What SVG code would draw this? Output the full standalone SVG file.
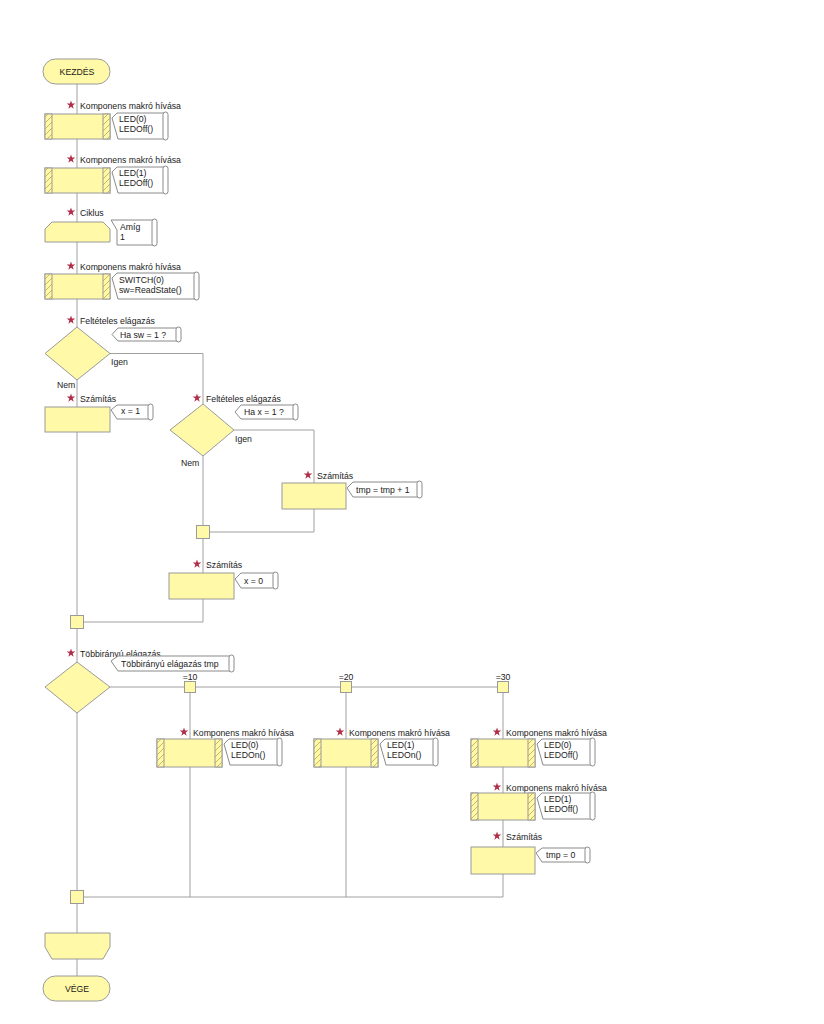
<svg xmlns="http://www.w3.org/2000/svg" xmlns:xlink="http://www.w3.org/1999/xlink" width="824" height="1024" viewBox="0 0 824 1024">
<style>
text{font-family:"Liberation Sans",Arial,sans-serif;font-size:8.7px;fill:#1a1a1a}
.mid{text-anchor:middle}
.shape{fill:#fff9a8;stroke:#9a9a9a;stroke-width:1}
.hatch{fill:url(#hp);stroke:#9a9a9a;stroke-width:1}
.line{fill:none;stroke:#a0a0a0;stroke-width:1}
.cm{fill:#fff;stroke:#8a8a8a;stroke-width:1}
.star{fill:#b0304a}
</style>
<defs>
<pattern id="hp" patternUnits="userSpaceOnUse" width="6" height="6">
<rect width="6" height="6" fill="#fff9a8"/>
<path d="M-1,7 L7,-1" stroke="#c8b050" stroke-width="0.9"/>
</pattern>
<path id="star" d="M0,-4.5 L1.06,-1.46 L4.28,-1.39 L1.71,0.56 L2.65,3.64 L0,1.8 L-2.65,3.64 L-1.71,0.56 L-4.28,-1.39 L-1.06,-1.46 Z"/>
</defs>
<rect width="824" height="1024" fill="#fff"/>

<g id="connectors">
<path class="line" d="M77,84 V976"/>
<path class="line" d="M110,353.5 H203 V622 H84"/>
<path class="line" d="M234,430 H314 V532 H209"/>
<path class="line" d="M110,687 H503 V897 H83"/>
<path class="line" d="M190,687 V897"/>
<path class="line" d="M346,687 V897"/>
</g>

<g id="start">
<rect class="shape" x="43" y="59" width="67" height="25" rx="12.5"/>
<text class="mid" x="77" y="75">KEZDÉS</text>
</g>

<g id="macro1">
<use href="#star" class="star" x="71" y="105"/>
<text x="80" y="109">Komponens makró hívása</text>
<rect class="shape" x="45" y="114" width="65" height="25"/>
<rect class="hatch" x="45" y="114" width="7" height="25"/>
<rect class="hatch" x="103" y="114" width="7" height="25"/>
<path class="cm" d="M117,113 L112,118 L118,139 L165,139 L165,113 Z"/>
<rect class="cm" x="163" y="112" width="5" height="28" rx="2.5"/>
<text x="119" y="122">LED(0)</text>
<text x="119" y="132">LEDOff()</text>
</g>

<g id="macro2">
<use href="#star" class="star" x="71" y="159"/>
<text x="80" y="163">Komponens makró hívása</text>
<rect class="shape" x="45" y="168" width="65" height="25"/>
<rect class="hatch" x="45" y="168" width="7" height="25"/>
<rect class="hatch" x="103" y="168" width="7" height="25"/>
<path class="cm" d="M117,167 L112,172 L118,193 L165,193 L165,167 Z"/>
<rect class="cm" x="163" y="166" width="5" height="28" rx="2.5"/>
<text x="119" y="176">LED(1)</text>
<text x="119" y="186">LEDOff()</text>
</g>

<g id="loop">
<use href="#star" class="star" x="71" y="212"/>
<text x="80" y="216">Ciklus</text>
<path class="shape" d="M52,222 L103,222 L110,229 L110,242 L45,242 L45,229 Z"/>
<path class="cm" d="M111,220 L117,230 L117,245 L154,245 L154,220 Z"/>
<rect class="cm" x="152" y="219" width="5" height="27" rx="2.5"/>
<text x="120" y="230">Amíg</text>
<text x="120" y="240">1</text>
</g>

<g id="macro3">
<use href="#star" class="star" x="71" y="266"/>
<text x="80" y="270">Komponens makró hívása</text>
<rect class="shape" x="45" y="274" width="65" height="25"/>
<rect class="hatch" x="45" y="274" width="7" height="25"/>
<rect class="hatch" x="103" y="274" width="7" height="25"/>
<path class="cm" d="M117,273 L112,278 L118,299 L196,299 L196,273 Z"/>
<rect class="cm" x="194" y="272" width="5" height="28" rx="2.5"/>
<text x="119" y="283">SWITCH(0)</text>
<text x="119" y="293">sw=ReadState()</text>
</g>

<g id="decision1">
<use href="#star" class="star" x="71" y="320"/>
<text x="80" y="324">Feltételes elágazás</text>
<path class="shape" d="M77,327 L110,353.5 L77,380 L45,353.5 Z"/>
<path class="cm" d="M118,328 L112,334.5 L118,341 L178,341 L178,328 Z"/>
<rect class="cm" x="176" y="327" width="5" height="15" rx="2.5"/>
<text x="120" y="338">Ha sw = 1 ?</text>
<text x="111" y="365">Igen</text>
<text x="57" y="388">Nem</text>
</g>

<g id="calc1">
<use href="#star" class="star" x="71" y="398"/>
<text x="80" y="402">Számítás</text>
<rect class="shape" x="45" y="407" width="65" height="25"/>
<path class="cm" d="M117,405 L111,410 L117,419 L150,419 L150,405 Z"/>
<rect class="cm" x="148" y="404" width="5" height="16" rx="2.5"/>
<text x="121" y="414">x = 1</text>
</g>

<g id="decision2">
<use href="#star" class="star" x="197" y="398"/>
<text x="206" y="402">Feltételes elágazás</text>
<path class="shape" d="M203,404 L234,430 L203,456 L170,430 Z"/>
<path class="cm" d="M241,405 L235,412 L241,419 L295,419 L295,405 Z"/>
<rect class="cm" x="293" y="404" width="5" height="16" rx="2.5"/>
<text x="244" y="415">Ha x = 1 ?</text>
<text x="235" y="442">Igen</text>
<text x="181" y="466">Nem</text>
</g>

<g id="calc2">
<use href="#star" class="star" x="308" y="475"/>
<text x="317" y="479">Számítás</text>
<rect class="shape" x="282" y="483" width="64" height="26"/>
<path class="cm" d="M353,482 L347,488 L353,497 L419,497 L419,482 Z"/>
<rect class="cm" x="417" y="481" width="5" height="17" rx="2.5"/>
<text x="356" y="493">tmp = tmp + 1</text>
</g>

<g id="junction1">
<rect class="shape" x="196.5" y="525.5" width="13" height="13"/>
</g>

<g id="calc3">
<use href="#star" class="star" x="197" y="564"/>
<text x="206" y="568">Számítás</text>
<rect class="shape" x="169" y="573" width="65" height="26"/>
<path class="cm" d="M241,573 L235,579 L241,588 L275,588 L275,573 Z"/>
<rect class="cm" x="273" y="572" width="5" height="17" rx="2.5"/>
<text x="244" y="584">x = 0</text>
</g>

<g id="junction2">
<rect class="shape" x="70.5" y="615.5" width="13" height="13"/>
</g>

<g id="switch">
<use href="#star" class="star" x="71" y="653"/>
<text x="80" y="657">Többirányú elágazás</text>
<path class="cm" d="M118,656 L111,661 L118,671 L231,671 L231,656 Z"/>
<rect class="cm" x="229" y="655" width="5" height="17" rx="2.5"/>
<text x="121" y="667">Többirányú elágazás tmp</text>
<path class="shape" d="M77,662 L110,687 L77,713 L45,687 Z"/>
</g>

<g id="case10">
<text class="mid" x="190" y="680">=10</text>
<rect class="shape" x="184.5" y="681.5" width="11" height="11"/>
</g>
<g id="case20">
<text class="mid" x="346" y="680">=20</text>
<rect class="shape" x="340.5" y="681.5" width="11" height="11"/>
</g>
<g id="case30">
<text class="mid" x="503" y="680">=30</text>
<rect class="shape" x="497.5" y="681.5" width="11" height="11"/>
</g>

<g id="macro4">
<use href="#star" class="star" x="184" y="732"/>
<text x="193" y="736">Komponens makró hívása</text>
<rect class="shape" x="157" y="739" width="65" height="28"/>
<rect class="hatch" x="157" y="739" width="7" height="28"/>
<rect class="hatch" x="215" y="739" width="7" height="28"/>
<path class="cm" d="M229,739 L224,744 L230,765 L279,765 L279,739 Z"/>
<rect class="cm" x="277" y="738" width="5" height="28" rx="2.5"/>
<text x="231" y="748">LED(0)</text>
<text x="231" y="758">LEDOn()</text>
</g>

<g id="macro5">
<use href="#star" class="star" x="340" y="732"/>
<text x="349" y="736">Komponens makró hívása</text>
<rect class="shape" x="314" y="739" width="64" height="28"/>
<rect class="hatch" x="314" y="739" width="7" height="28"/>
<rect class="hatch" x="371" y="739" width="7" height="28"/>
<path class="cm" d="M385,739 L380,744 L386,765 L435,765 L435,739 Z"/>
<rect class="cm" x="433" y="738" width="5" height="28" rx="2.5"/>
<text x="387" y="748">LED(1)</text>
<text x="387" y="758">LEDOn()</text>
</g>

<g id="macro6">
<use href="#star" class="star" x="497" y="732"/>
<text x="506" y="736">Komponens makró hívása</text>
<rect class="shape" x="471" y="739" width="64" height="28"/>
<rect class="hatch" x="471" y="739" width="7" height="28"/>
<rect class="hatch" x="528" y="739" width="7" height="28"/>
<path class="cm" d="M542,739 L537,744 L543,765 L592,765 L592,739 Z"/>
<rect class="cm" x="590" y="738" width="5" height="28" rx="2.5"/>
<text x="544" y="748">LED(0)</text>
<text x="544" y="758">LEDOff()</text>
</g>

<g id="macro7">
<use href="#star" class="star" x="497" y="787"/>
<text x="506" y="791">Komponens makró hívása</text>
<rect class="shape" x="471" y="793" width="64" height="27"/>
<rect class="hatch" x="471" y="793" width="7" height="27"/>
<rect class="hatch" x="528" y="793" width="7" height="27"/>
<path class="cm" d="M542,793 L537,798 L543,819 L592,819 L592,793 Z"/>
<rect class="cm" x="590" y="792" width="5" height="28" rx="2.5"/>
<text x="544" y="802">LED(1)</text>
<text x="544" y="812">LEDOff()</text>
</g>

<g id="calc4">
<use href="#star" class="star" x="497" y="836"/>
<text x="506" y="840">Számítás</text>
<rect class="shape" x="471" y="847" width="64" height="27"/>
<path class="cm" d="M542,848 L536,853 L542,862 L587,862 L587,848 Z"/>
<rect class="cm" x="585" y="847" width="5" height="16" rx="2.5"/>
<text x="546" y="858">tmp = 0</text>
</g>

<g id="junction3">
<rect class="shape" x="70.5" y="890.5" width="13" height="13"/>
</g>

<g id="loopend">
<path class="shape" d="M45,933 L110,933 L110,947 L103,959 L52,959 L45,947 Z"/>
</g>

<g id="end">
<rect class="shape" x="43" y="976" width="67" height="25" rx="12.5"/>
<text class="mid" x="77" y="992">VÉGE</text>
</g>
</svg>
